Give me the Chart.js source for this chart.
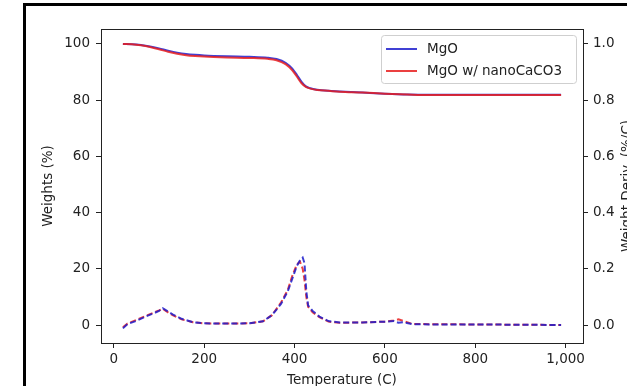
<!DOCTYPE html>
<html>
<head>
<meta charset="utf-8">
<script src="https://cdn.jsdelivr.net/npm/chart.js@4"></script>
<style>
  html, body { margin: 0; padding: 0; background: #fff; }
  #wrap { position: relative; width: 627px; height: 386px; overflow: hidden; }
  #tga { position: absolute; left: 0; top: 0; }
  #frame { position: absolute; left: 23px; top: 3px; width: 800px; height: 600px;
           border: 3px solid #000; pointer-events: none; }
</style>
</head>
<body>
<div id="wrap">
  <canvas id="tga" width="660" height="410"></canvas>
  <div id="frame"></div>
</div>
<script>
// weight curves (%), temperature in C
const weightTemps = [20, 40, 60, 80, 100, 120, 140, 160, 180, 200, 250, 300, 340, 360, 380, 395, 405, 415, 425, 435, 450, 475, 500, 550, 600, 650, 700, 800, 900, 990];
const mgoWeight = [100, 99.9, 99.6, 99.1, 98.4, 97.6, 96.9, 96.4, 96.1, 95.9, 95.6, 95.4, 95.1, 94.6, 93.3, 91.2, 89.0, 86.6, 84.9, 84.2, 83.7, 83.3, 83.1, 82.7, 82.3, 82.0, 81.9, 81.9, 81.9, 81.9];
const caco3Weight = [100, 99.9, 99.5, 98.9, 98.1, 97.2, 96.5, 96.0, 95.7, 95.5, 95.2, 95.0, 94.7, 94.2, 92.8, 90.6, 88.4, 86.1, 84.7, 84.1, 83.6, 83.3, 83.0, 82.7, 82.3, 82.0, 81.8, 81.8, 81.8, 81.8];

// derivative curves (%/C)
const derivTemps = [20, 30, 50, 70, 90, 100, 108, 115, 130, 150, 175, 200, 250, 300, 330, 350, 370, 385, 395, 405, 412, 418, 422, 426, 430, 440, 455, 475, 500, 550, 600, 620, 630, 640, 660, 700, 800, 900, 990];
const mgoDeriv = [-0.012, 0.003, 0.015, 0.03, 0.043, 0.05, 0.06, 0.053, 0.038, 0.022, 0.01, 0.006, 0.005, 0.006, 0.013, 0.035, 0.075, 0.12, 0.165, 0.21, 0.23, 0.24, 0.22, 0.12, 0.07, 0.05, 0.03, 0.014, 0.009, 0.009, 0.012, 0.014, 0.008, 0.01, 0.003, 0.002, 0.002, 0.001, 0];
const caco3Deriv = [-0.008, 0.005, 0.018, 0.032, 0.045, 0.052, 0.058, 0.05, 0.035, 0.02, 0.01, 0.006, 0.005, 0.006, 0.013, 0.035, 0.08, 0.125, 0.175, 0.215, 0.225, 0.2, 0.16, 0.1, 0.065, 0.045, 0.028, 0.012, 0.008, 0.009, 0.012, 0.016, 0.02, 0.015, 0.004, 0.003, 0.002, 0.001, 0];

const xTicks = [0, 200, 400, 600, 800, 1000];
const leftTicks = [0, 20, 40, 60, 80, 100];
const rightTicks = [0, 0.2, 0.4, 0.6, 0.8, 1.0];

const BLUE = 'rgba(30,30,205,0.85)';
const RED = 'rgba(232,30,30,0.85)';
const INK = '#222';
const FONT = '"DejaVu Sans", sans-serif';

function pts(xs, ys) {
    return xs.map((x, i) => ({x: x, y: ys[i]}));
}

const extras = {
    id: 'extras',
    afterDraw(chart) {
        const ctx = chart.ctx;
        const a = chart.chartArea;
        ctx.save();
        // top spine
        ctx.strokeStyle = INK;
        ctx.lineWidth = 1;
        ctx.beginPath();
        ctx.moveTo(a.left, a.top + 0.5);
        ctx.lineTo(a.right, a.top + 0.5);
        ctx.stroke();

        // legend box (solid curves only)
        ctx.fillStyle = 'rgba(255,255,255,0.85)';
        ctx.strokeStyle = '#cfcfcf';
        ctx.beginPath();
        ctx.roundRect(381.5, 35.5, 195, 48, 3);
        ctx.fill();
        ctx.stroke();
        ctx.font = '13.5px ' + FONT;
        ctx.textBaseline = 'middle';
        ctx.textAlign = 'left';
        const items = chart.data.datasets.filter(d => !d.borderDash);
        items.forEach((d, i) => {
            const y = 49 + i * 22;
            ctx.strokeStyle = d.borderColor;
            ctx.lineWidth = 2;
            ctx.beginPath();
            ctx.moveTo(386, y);
            ctx.lineTo(417, y);
            ctx.stroke();
            ctx.fillStyle = INK;
            ctx.fillText(d.label, 427, y);
        });

        // right axis title, reads bottom to top like the left one
        ctx.translate(627, (a.top + a.bottom) / 2);
        ctx.rotate(-Math.PI / 2);
        ctx.fillStyle = INK;
        ctx.textAlign = 'center';
        ctx.fillText('Weight Deriv. (%/C)', 0, 0);
        ctx.restore();
    }
};

const axisGrid = {
    display: true,
    drawOnChartArea: false,
    drawTicks: true,
    tickLength: 5,
    color: INK
};

new Chart(document.getElementById('tga'), {
    type: 'line',
    data: {
        datasets: [
            {label: 'MgO', data: pts(weightTemps, mgoWeight), borderColor: BLUE, yAxisID: 'y', cubicInterpolationMode: 'monotone', order: 2},
            {label: 'MgO w/ nanoCaCO3', data: pts(weightTemps, caco3Weight), borderColor: RED, yAxisID: 'y', cubicInterpolationMode: 'monotone', order: 1},
            {label: 'MgO deriv', data: pts(derivTemps, mgoDeriv), borderColor: BLUE, yAxisID: 'y1', borderDash: [6, 3], order: 3},
            {label: 'MgO w/ nanoCaCO3 deriv', data: pts(derivTemps, caco3Deriv), borderColor: RED, yAxisID: 'y1', borderDash: [6, 3], order: 4}
        ].map(d => Object.assign({borderWidth: 2, pointRadius: 0, fill: false, tension: 0}, d))
    },
    options: {
        responsive: false,
        animation: false,
        layout: {padding: {top: 29, left: 0, right: 0, bottom: 0}},
        plugins: {legend: {display: false}, tooltip: {enabled: false}},
        scales: {
            x: {
                type: 'linear',
                min: -28.5,
                max: 1038.5,
                grid: axisGrid,
                border: {display: true, color: INK},
                afterBuildTicks: s => { s.ticks = xTicks.map(v => ({value: v})); },
                afterFit: s => { s.height = 67; },
                ticks: {color: INK, font: {family: FONT, size: 13.5}, padding: 3, maxRotation: 0},
                title: {display: true, text: 'Temperature (C)', color: INK, font: {family: FONT, size: 13.5}, padding: {top: 0, bottom: 21}}
            },
            y: {
                position: 'left',
                min: -6.4,
                max: 105.3,
                grid: axisGrid,
                border: {display: true, color: INK},
                afterBuildTicks: s => { s.ticks = leftTicks.map(v => ({value: v})); },
                afterFit: s => { s.width = 101; },
                ticks: {color: INK, font: {family: FONT, size: 13.5}, padding: 6},
                title: {display: true, text: 'Weights (%)', color: INK, font: {family: FONT, size: 13.5}, padding: {top: 40, bottom: 0}}
            },
            y1: {
                position: 'right',
                min: -0.064,
                max: 1.053,
                grid: axisGrid,
                border: {display: true, color: INK},
                afterBuildTicks: s => { s.ticks = rightTicks.map(v => ({value: v})); },
                afterFit: s => { s.width = 77; },
                ticks: {color: INK, font: {family: FONT, size: 13.5}, padding: 5, callback: v => v.toFixed(1)}
            }
        }
    },
    plugins: [extras]
});
</script>
</body>
</html>
